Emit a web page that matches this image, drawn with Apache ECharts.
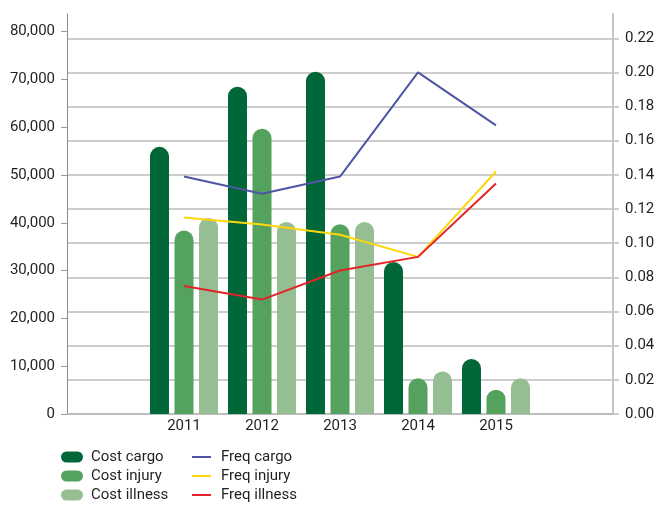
<!DOCTYPE html>
<html>
<head>
<meta charset="utf-8">
<script src="https://cdn.jsdelivr.net/npm/echarts@6/dist/echarts.min.js"></script>
<style>
  html, body { margin: 0; padding: 0; background: #fff; }
  #chart { width: 664px; height: 508px; }
</style>
</head>
<body>
<div id="chart"></div>
<script>
// values
const years = ['2011', '2012', '2013', '2014', '2015'];
const costCargo = [55900, 68500, 71600, 31800, 11500];
const costInjury = [38400, 59700, 39700, 7500, 5100];
const costIllness = [41000, 40200, 40200, 8900, 7500];
const freqCargo = [0.139, 0.129, 0.139, 0.200, 0.169];
const freqInjury = [0.115, 0.111, 0.105, 0.092, 0.142];
const freqIllness = [0.075, 0.067, 0.084, 0.092, 0.135];
const costTicks = [0, 10000, 20000, 30000, 40000, 50000, 60000, 70000, 80000];
const freqTicks = [0, 0.02, 0.04, 0.06, 0.08, 0.10, 0.12, 0.14, 0.16, 0.18, 0.20, 0.22];

const chart = echarts.init(document.getElementById('chart'));

// empty slots at both ends, like the original
const cats = [' ', ...years, '  '];
const pairs = (vals) => years.map((y, i) => [y, vals[i]]);

const font = 'Roboto, "Noto Sans", sans-serif';
const pill = 'path://M5.5,0 H16.5 A5.5,5.5 0 0 1 16.5,11 H5.5 A5.5,5.5 0 0 1 5.5,0 Z';

const barSeries = (name, vals, color) => ({
    name: name,
    type: 'bar',
    yAxisIndex: 0,
    data: pairs(vals),
    barWidth: 19,
    barGap: '29%',
    itemStyle: { color: color, borderRadius: [9.5, 9.5, 0, 0] },
});

const lineSeries = (name, vals, color) => ({
    name: name,
    type: 'line',
    yAxisIndex: 1,
    data: pairs(vals),
    symbol: 'none',
    z: 5,
    lineStyle: { color: color, width: 2 },
    itemStyle: { color: color },
});

const option = {
    animation: false,
    textStyle: { fontFamily: font },
    grid: {
        left: 67,
        right: 51,
        top: 14,
        bottom: 94,
        containLabel: false,
        outerBoundsMode: 'none',
    },
    legend: [
        {
            data: ['Cost cargo', 'Cost injury', 'Cost illness'],
            orient: 'vertical',
            left: 61,
            top: 449,
            padding: 0,
            icon: pill,
            itemWidth: 22,
            itemHeight: 11,
            itemGap: 3,
            textStyle: { fontSize: 15, color: '#231f20', lineHeight: 16, padding: [0, 0, 0, 3] },
        },
        {
            data: ['Freq cargo', 'Freq injury', 'Freq illness'],
            orient: 'vertical',
            left: 192,
            top: 449,
            padding: 0,
            icon: 'rect',
            itemWidth: 19,
            itemHeight: 2,
            itemGap: 3,
            textStyle: { fontSize: 15, color: '#231f20', lineHeight: 16, padding: [0, 0, 0, 5] },
        },
    ],
    xAxis: {
        type: 'category',
        data: cats,
        axisLine: { lineStyle: { color: '#b8b8b8', width: 1.5 } },
        axisTick: { show: false },
        axisLabel: { fontSize: 15, color: '#231f20', margin: 5 },
    },
    yAxis: [
        {
            type: 'value',
            min: 0,
            max: 83700,
            axisLine: { show: true, lineStyle: { color: '#8c8c8c', width: 1 } },
            axisTick: { show: true, length: 6, customValues: costTicks, lineStyle: { color: '#9a9a9a' } },
            axisLabel: {
                customValues: costTicks,
                fontSize: 15,
                color: '#231f20',
                margin: 12,
                formatter: (v) => v.toLocaleString('en-US'),
            },
            splitLine: { show: false },
        },
        {
            type: 'value',
            position: 'right',
            min: 0,
            max: 0.2342,
            axisLine: { show: true, lineStyle: { color: '#c6c6c6', width: 2 } },
            axisTick: { show: true, length: 6, customValues: freqTicks, lineStyle: { color: '#bdbdbd', width: 1.5 } },
            axisLabel: {
                customValues: freqTicks,
                fontSize: 15,
                color: '#231f20',
                margin: 12,
                formatter: (v) => v.toFixed(2),
            },
            splitLine: { show: true, lineStyle: { color: '#bdbdbd', width: 1.5 } },
        },
    ],
    series: [
        barSeries('Cost cargo', costCargo, '#006838'),
        barSeries('Cost injury', costInjury, '#55a25e'),
        barSeries('Cost illness', costIllness, '#95bf93'),
        lineSeries('Freq cargo', freqCargo, '#4f55a5'),
        lineSeries('Freq injury', freqInjury, '#fdd70b'),
        lineSeries('Freq illness', freqIllness, '#e3222a'),
    ],
};

chart.setOption(option);
</script>
</body>
</html>
